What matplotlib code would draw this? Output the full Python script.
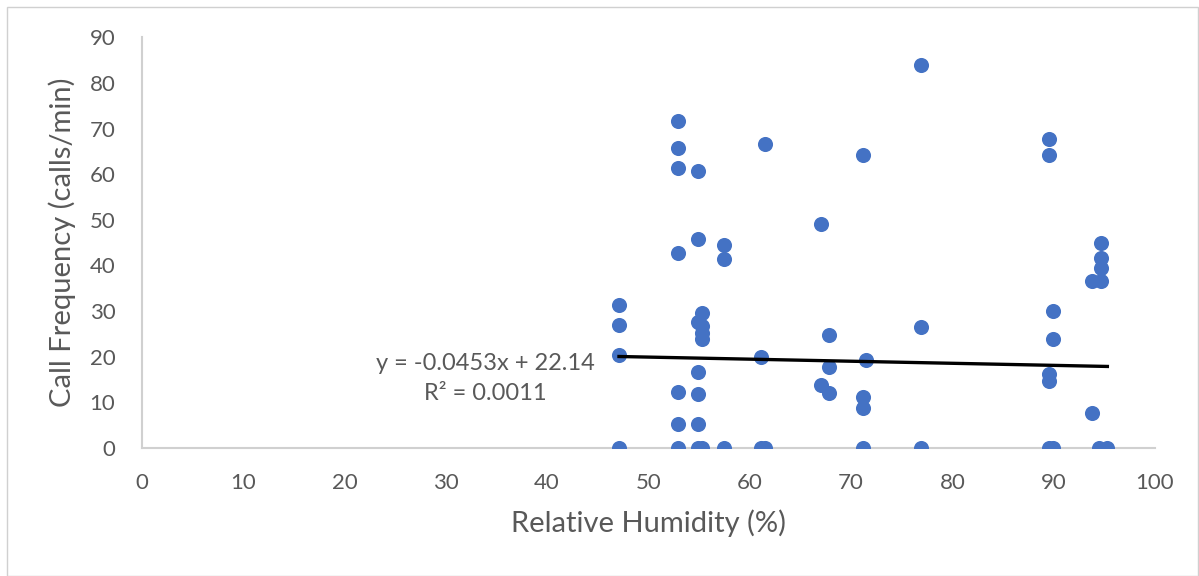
import numpy as np
import matplotlib.pyplot as plt

plt.rcParams['font.family'] = ['Lato', 'DejaVu Sans']

# relative humidity (%) and call frequency (calls/min)
humidity = [47.1, 47.1, 47.1, 47.1,
            52.9, 52.9, 52.9, 52.9, 52.9, 52.9, 52.9,
            54.85, 54.85, 54.85, 54.85, 54.85, 54.85, 54.85,
            55.25, 55.25, 55.25, 55.25, 55.25,
            57.5, 57.5, 57.5,
            61.1, 61.1, 61.5, 61.5,
            67.0, 67.0, 67.8, 67.8, 67.8,
            71.2, 71.2, 71.2, 71.5, 71.2,
            76.9, 76.9, 76.9,
            89.5, 89.5, 89.5, 89.5, 89.5, 89.95, 89.95, 89.95,
            93.8, 93.8,
            94.7, 94.7, 94.7, 94.7, 94.5, 95.3]
calls = [31.3, 27.0, 20.3, 0,
         71.6, 65.8, 61.3, 42.8, 12.3, 5.1, 0,
         60.7, 45.8, 27.6, 16.7, 11.8, 5.3, 0,
         29.5, 26.6, 25.2, 23.8, 0,
         44.4, 41.3, 0,
         20.0, 0, 66.7, 0,
         49.0, 13.7, 24.7, 17.8, 11.9,
         64.3, 11.2, 8.8, 19.2, 0,
         84.0, 26.5, 0,
         67.7, 64.2, 16.1, 14.6, 0, 30.0, 23.8, 0,
         36.5, 7.7,
         44.8, 41.7, 39.5, 36.5, 0, 0]

slope, intercept = -0.0453, 22.14
eq_text = "y = -0.0453x + 22.14\nR² = 0.0011"

grey = "#595959"
axis_grey = "#D0D0D0"

fig = plt.figure(figsize=(11.99, 5.76), dpi=100)
ax = fig.add_axes([0.1182, 0.2227, 0.8451, 0.7125])

ax.scatter(humidity, calls, s=118, color="#4472C4", zorder=3, linewidths=0)

xs = np.array([min(humidity), max(humidity)])
ax.plot(xs, slope * xs + intercept, color="black", lw=2.4, zorder=4)

ax.text(33.9, 15.2, eq_text, ha='center', va='center', multialignment='center',
        fontsize=17, color=grey, linespacing=1.5)

ax.set_xlim(0, 100)
ax.set_ylim(0, 90)
ax.set_xticks(np.arange(0, 101, 10))
ax.set_yticks(np.arange(0, 91, 10))
ax.tick_params(length=0, labelsize=16, colors=grey)
ax.tick_params(axis='x', pad=18)
ax.tick_params(axis='y', pad=19)
for side in ['top', 'right']:
    ax.spines[side].set_visible(False)
for side in ['left', 'bottom']:
    ax.spines[side].set_color(axis_grey)
    ax.spines[side].set_linewidth(1.5)

ax.set_xlabel("Relative Humidity (%)", fontsize=21, color=grey, labelpad=12)
ax.set_ylabel("Call Frequency (calls/min)", fontsize=21, color=grey, labelpad=10)

# chart area border
fig.patches.append(plt.Rectangle((0.0055, 0.0), 0.994, 0.987, transform=fig.transFigure,
                                 fill=False, edgecolor=axis_grey, lw=1))

fig.savefig("out.png", dpi=100)
